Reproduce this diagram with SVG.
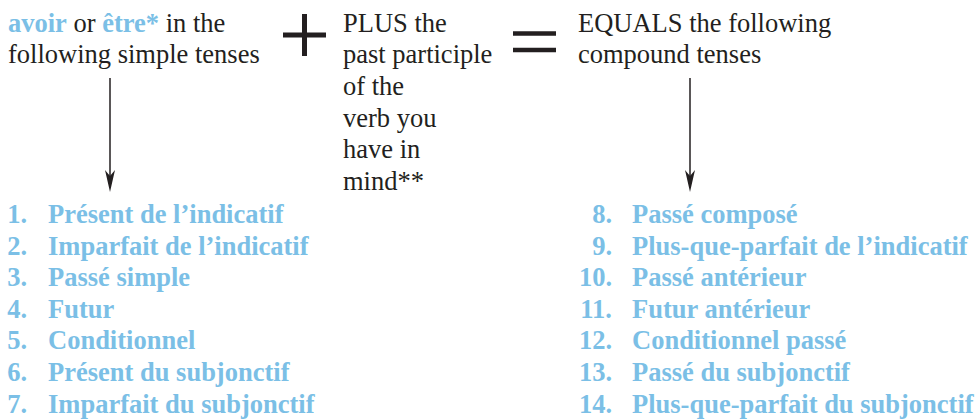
<svg xmlns="http://www.w3.org/2000/svg" width="980" height="419" viewBox="0 0 980 419">
<rect width="980" height="419" fill="#fff"/>
<g id="simple">
<text x="8" y="32" font-family="Liberation Serif" font-size="26.5" fill="#231f20"><tspan font-weight="bold" fill="#7bbfe6">avoir</tspan> or <tspan font-weight="bold" fill="#7bbfe6">être*</tspan> in the</text>
<text x="8" y="63" font-family="Liberation Serif" font-size="26.5" fill="#231f20">following simple tenses</text>
</g>
<g id="plus"><path d="M283,35 H326 M304.5,14 V56" stroke="#231f20" stroke-width="5"/></g>
<g id="participle">
<text x="343" y="32" font-family="Liberation Serif" font-size="26.5" fill="#231f20">PLUS the</text>
<text x="343" y="63" font-family="Liberation Serif" font-size="26.5" fill="#231f20">past participle</text>
<text x="343" y="95" font-family="Liberation Serif" font-size="26.5" fill="#231f20">of the</text>
<text x="343" y="127" font-family="Liberation Serif" font-size="26.5" fill="#231f20">verb you</text>
<text x="343" y="158" font-family="Liberation Serif" font-size="26.5" fill="#231f20">have in</text>
<text x="343" y="190" font-family="Liberation Serif" font-size="26.5" fill="#231f20">mind**</text>
</g>
<g id="equals"><path d="M513,33.5 H556 M513,50 H556" stroke="#231f20" stroke-width="4.5"/></g>
<g id="compound">
<text x="578" y="32" font-family="Liberation Serif" font-size="26.5" fill="#231f20">EQUALS the following</text>
<text x="578" y="63" font-family="Liberation Serif" font-size="26.5" fill="#231f20">compound tenses</text>
</g>
<g id="connectors">
<line x1="110" y1="78" x2="110" y2="180" stroke="#231f20" stroke-width="1.5"/>
<path d="M105,170 L110,192 L115,170 L110,176 Z" fill="#231f20"/>
<line x1="690" y1="78" x2="690" y2="180" stroke="#231f20" stroke-width="1.5"/>
<path d="M685,170 L690,192 L695,170 L690,176 Z" fill="#231f20"/>
</g>
<g id="simple-list">
<text x="27" y="223" text-anchor="end" font-family="Liberation Serif" font-size="26.5" font-weight="bold" fill="#7bbfe6">1.</text>
<text x="27" y="255" text-anchor="end" font-family="Liberation Serif" font-size="26.5" font-weight="bold" fill="#7bbfe6">2.</text>
<text x="27" y="286" text-anchor="end" font-family="Liberation Serif" font-size="26.5" font-weight="bold" fill="#7bbfe6">3.</text>
<text x="27" y="318" text-anchor="end" font-family="Liberation Serif" font-size="26.5" font-weight="bold" fill="#7bbfe6">4.</text>
<text x="27" y="349" text-anchor="end" font-family="Liberation Serif" font-size="26.5" font-weight="bold" fill="#7bbfe6">5.</text>
<text x="27" y="381" text-anchor="end" font-family="Liberation Serif" font-size="26.5" font-weight="bold" fill="#7bbfe6">6.</text>
<text x="27" y="413" text-anchor="end" font-family="Liberation Serif" font-size="26.5" font-weight="bold" fill="#7bbfe6">7.</text>
<text x="48" y="223" font-family="Liberation Serif" font-size="26.5" font-weight="bold" fill="#7bbfe6">Présent de l’indicatif</text>
<text x="48" y="255" font-family="Liberation Serif" font-size="26.5" font-weight="bold" fill="#7bbfe6">Imparfait de l’indicatif</text>
<text x="48" y="286" font-family="Liberation Serif" font-size="26.5" font-weight="bold" fill="#7bbfe6">Passé simple</text>
<text x="48" y="318" font-family="Liberation Serif" font-size="26.5" font-weight="bold" fill="#7bbfe6">Futur</text>
<text x="48" y="349" font-family="Liberation Serif" font-size="26.5" font-weight="bold" fill="#7bbfe6">Conditionnel</text>
<text x="48" y="381" font-family="Liberation Serif" font-size="26.5" font-weight="bold" fill="#7bbfe6">Présent du subjonctif</text>
<text x="48" y="413" font-family="Liberation Serif" font-size="26.5" font-weight="bold" fill="#7bbfe6">Imparfait du subjonctif</text>
</g>
<g id="compound-list">
<text x="612" y="223" text-anchor="end" font-family="Liberation Serif" font-size="26.5" font-weight="bold" fill="#7bbfe6">8.</text>
<text x="612" y="255" text-anchor="end" font-family="Liberation Serif" font-size="26.5" font-weight="bold" fill="#7bbfe6">9.</text>
<text x="612" y="286" text-anchor="end" font-family="Liberation Serif" font-size="26.5" font-weight="bold" fill="#7bbfe6">10.</text>
<text x="612" y="318" text-anchor="end" font-family="Liberation Serif" font-size="26.5" font-weight="bold" fill="#7bbfe6">11.</text>
<text x="612" y="349" text-anchor="end" font-family="Liberation Serif" font-size="26.5" font-weight="bold" fill="#7bbfe6">12.</text>
<text x="612" y="381" text-anchor="end" font-family="Liberation Serif" font-size="26.5" font-weight="bold" fill="#7bbfe6">13.</text>
<text x="612" y="413" text-anchor="end" font-family="Liberation Serif" font-size="26.5" font-weight="bold" fill="#7bbfe6">14.</text>
<text x="632" y="223" font-family="Liberation Serif" font-size="26.5" font-weight="bold" fill="#7bbfe6">Passé composé</text>
<text x="632" y="255" font-family="Liberation Serif" font-size="26.5" font-weight="bold" fill="#7bbfe6">Plus-que-parfait de l’indicatif</text>
<text x="632" y="286" font-family="Liberation Serif" font-size="26.5" font-weight="bold" fill="#7bbfe6">Passé antérieur</text>
<text x="632" y="318" font-family="Liberation Serif" font-size="26.5" font-weight="bold" fill="#7bbfe6">Futur antérieur</text>
<text x="632" y="349" font-family="Liberation Serif" font-size="26.5" font-weight="bold" fill="#7bbfe6">Conditionnel passé</text>
<text x="632" y="381" font-family="Liberation Serif" font-size="26.5" font-weight="bold" fill="#7bbfe6">Passé du subjonctif</text>
<text x="632" y="413" font-family="Liberation Serif" font-size="26.5" font-weight="bold" fill="#7bbfe6">Plus-que-parfait du subjonctif</text>
</g>
</svg>
